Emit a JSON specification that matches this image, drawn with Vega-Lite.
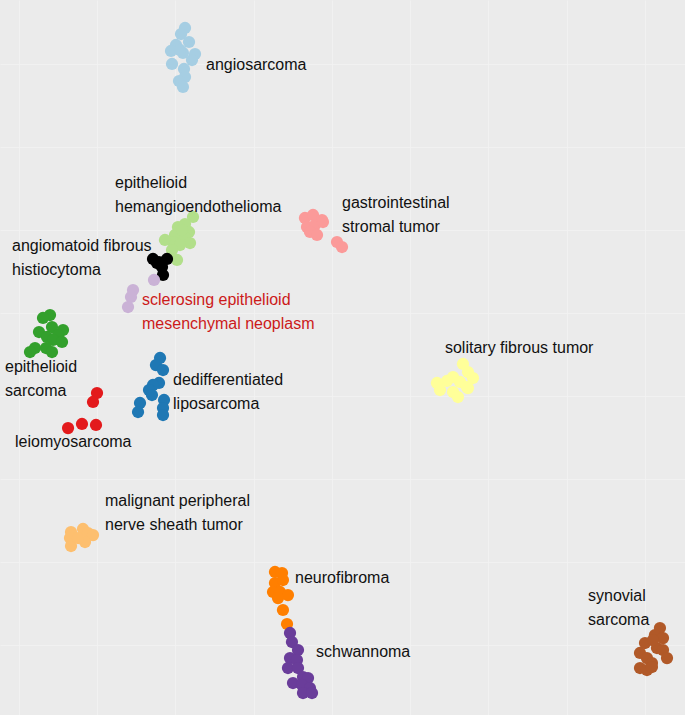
{
  "$schema": "https://vega.github.io/schema/vega-lite/v6.json",
  "width": 685,
  "height": 715,
  "autosize": {"type": "fit", "contains": "padding"},
  "padding": 0,
  "background": "#ebebeb",
  "config": {"view": {"stroke": null, "fill": "#ebebeb"}},
  "datasets": {
    "pts": [
      {"t": "angiosarcoma", "x": 11.24, "y": 74.34},
      {"t": "angiosarcoma", "x": 10.73, "y": 73.61},
      {"t": "angiosarcoma", "x": 10.09, "y": 72.29},
      {"t": "angiosarcoma", "x": 11.75, "y": 72.65},
      {"t": "angiosarcoma", "x": 9.45, "y": 71.57},
      {"t": "angiosarcoma", "x": 10.98, "y": 71.33},
      {"t": "angiosarcoma", "x": 12.52, "y": 71.2},
      {"t": "angiosarcoma", "x": 12.13, "y": 70.48},
      {"t": "angiosarcoma", "x": 9.58, "y": 70.0},
      {"t": "angiosarcoma", "x": 11.11, "y": 69.4},
      {"t": "angiosarcoma", "x": 11.24, "y": 68.43},
      {"t": "angiosarcoma", "x": 10.47, "y": 67.95},
      {"t": "angiosarcoma", "x": 10.98, "y": 67.23},
      {"t": "angiosarcoma", "x": 10.6, "y": 71.69},
      {"t": "epithelioid hemangioendothelioma", "x": 12.26, "y": 51.57},
      {"t": "epithelioid hemangioendothelioma", "x": 11.24, "y": 50.72},
      {"t": "epithelioid hemangioendothelioma", "x": 10.34, "y": 50.36},
      {"t": "epithelioid hemangioendothelioma", "x": 11.75, "y": 49.76},
      {"t": "epithelioid hemangioendothelioma", "x": 10.85, "y": 49.64},
      {"t": "epithelioid hemangioendothelioma", "x": 9.96, "y": 49.4},
      {"t": "epithelioid hemangioendothelioma", "x": 11.24, "y": 49.04},
      {"t": "epithelioid hemangioendothelioma", "x": 9.71, "y": 48.55},
      {"t": "epithelioid hemangioendothelioma", "x": 11.88, "y": 48.43},
      {"t": "epithelioid hemangioendothelioma", "x": 10.6, "y": 48.19},
      {"t": "epithelioid hemangioendothelioma", "x": 8.68, "y": 48.8},
      {"t": "epithelioid hemangioendothelioma", "x": 9.58, "y": 47.59},
      {"t": "epithelioid hemangioendothelioma", "x": 10.22, "y": 46.39},
      {"t": "epithelioid hemangioendothelioma", "x": 10.85, "y": 50.0},
      {"t": "angiomatoid fibrous histiocytoma", "x": 7.15, "y": 46.51},
      {"t": "angiomatoid fibrous histiocytoma", "x": 7.92, "y": 46.14},
      {"t": "angiomatoid fibrous histiocytoma", "x": 8.94, "y": 46.51},
      {"t": "angiomatoid fibrous histiocytoma", "x": 8.3, "y": 45.54},
      {"t": "angiomatoid fibrous histiocytoma", "x": 8.43, "y": 44.58},
      {"t": "angiomatoid fibrous histiocytoma", "x": 7.66, "y": 46.02},
      {"t": "sclerosing epithelioid mesenchymal neoplasm", "x": 7.28, "y": 43.98},
      {"t": "sclerosing epithelioid mesenchymal neoplasm", "x": 4.6, "y": 42.77},
      {"t": "sclerosing epithelioid mesenchymal neoplasm", "x": 4.34, "y": 41.93},
      {"t": "sclerosing epithelioid mesenchymal neoplasm", "x": 3.96, "y": 40.72},
      {"t": "epithelioid sarcoma", "x": -6.0, "y": 39.76},
      {"t": "epithelioid sarcoma", "x": -6.9, "y": 39.4},
      {"t": "epithelioid sarcoma", "x": -5.75, "y": 38.31},
      {"t": "epithelioid sarcoma", "x": -7.41, "y": 37.71},
      {"t": "epithelioid sarcoma", "x": -4.34, "y": 37.95},
      {"t": "epithelioid sarcoma", "x": -4.98, "y": 37.35},
      {"t": "epithelioid sarcoma", "x": -6.39, "y": 37.11},
      {"t": "epithelioid sarcoma", "x": -5.62, "y": 36.75},
      {"t": "epithelioid sarcoma", "x": -4.47, "y": 36.51},
      {"t": "epithelioid sarcoma", "x": -7.92, "y": 35.78},
      {"t": "epithelioid sarcoma", "x": -8.56, "y": 35.3},
      {"t": "epithelioid sarcoma", "x": -6.51, "y": 35.78},
      {"t": "epithelioid sarcoma", "x": -5.75, "y": 35.3},
      {"t": "leiomyosarcoma", "x": 0.0, "y": 30.36},
      {"t": "leiomyosarcoma", "x": -0.51, "y": 29.28},
      {"t": "leiomyosarcoma", "x": -0.13, "y": 26.51},
      {"t": "leiomyosarcoma", "x": -1.92, "y": 26.63},
      {"t": "leiomyosarcoma", "x": -3.7, "y": 26.14},
      {"t": "dedifferentiated liposarcoma", "x": 8.05, "y": 34.58},
      {"t": "dedifferentiated liposarcoma", "x": 7.53, "y": 33.73},
      {"t": "dedifferentiated liposarcoma", "x": 8.43, "y": 33.13},
      {"t": "dedifferentiated liposarcoma", "x": 7.92, "y": 31.57},
      {"t": "dedifferentiated liposarcoma", "x": 7.15, "y": 31.33},
      {"t": "dedifferentiated liposarcoma", "x": 6.64, "y": 30.72},
      {"t": "dedifferentiated liposarcoma", "x": 7.02, "y": 30.12},
      {"t": "dedifferentiated liposarcoma", "x": 5.49, "y": 29.16},
      {"t": "dedifferentiated liposarcoma", "x": 5.24, "y": 28.07},
      {"t": "dedifferentiated liposarcoma", "x": 8.56, "y": 29.52},
      {"t": "dedifferentiated liposarcoma", "x": 8.43, "y": 28.55},
      {"t": "dedifferentiated liposarcoma", "x": 8.43, "y": 27.71},
      {"t": "gastrointestinal stromal tumor", "x": 26.56, "y": 51.45},
      {"t": "gastrointestinal stromal tumor", "x": 27.59, "y": 51.81},
      {"t": "gastrointestinal stromal tumor", "x": 28.74, "y": 51.2},
      {"t": "gastrointestinal stromal tumor", "x": 26.82, "y": 50.36},
      {"t": "gastrointestinal stromal tumor", "x": 27.84, "y": 50.6},
      {"t": "gastrointestinal stromal tumor", "x": 27.2, "y": 49.76},
      {"t": "gastrointestinal stromal tumor", "x": 28.1, "y": 49.4},
      {"t": "gastrointestinal stromal tumor", "x": 30.65, "y": 48.55},
      {"t": "gastrointestinal stromal tumor", "x": 31.29, "y": 47.95},
      {"t": "gastrointestinal stromal tumor", "x": 28.86, "y": 50.96},
      {"t": "solitary fibrous tumor", "x": 46.74, "y": 33.86},
      {"t": "solitary fibrous tumor", "x": 47.38, "y": 32.89},
      {"t": "solitary fibrous tumor", "x": 48.02, "y": 32.17},
      {"t": "solitary fibrous tumor", "x": 45.47, "y": 32.29},
      {"t": "solitary fibrous tumor", "x": 44.7, "y": 31.81},
      {"t": "solitary fibrous tumor", "x": 43.42, "y": 31.57},
      {"t": "solitary fibrous tumor", "x": 43.81, "y": 30.72},
      {"t": "solitary fibrous tumor", "x": 46.36, "y": 31.69},
      {"t": "solitary fibrous tumor", "x": 45.47, "y": 30.48},
      {"t": "solitary fibrous tumor", "x": 47.38, "y": 30.96},
      {"t": "solitary fibrous tumor", "x": 46.1, "y": 29.88},
      {"t": "solitary fibrous tumor", "x": 47.25, "y": 31.08},
      {"t": "malignant peripheral nerve sheath tumor", "x": -3.32, "y": 13.61},
      {"t": "malignant peripheral nerve sheath tumor", "x": -3.45, "y": 12.89},
      {"t": "malignant peripheral nerve sheath tumor", "x": -3.32, "y": 11.93},
      {"t": "malignant peripheral nerve sheath tumor", "x": -1.79, "y": 13.98},
      {"t": "malignant peripheral nerve sheath tumor", "x": -1.15, "y": 13.49},
      {"t": "malignant peripheral nerve sheath tumor", "x": -0.51, "y": 13.25},
      {"t": "malignant peripheral nerve sheath tumor", "x": -1.53, "y": 12.41},
      {"t": "malignant peripheral nerve sheath tumor", "x": -2.43, "y": 12.89},
      {"t": "neurofibroma", "x": 22.73, "y": 8.8},
      {"t": "neurofibroma", "x": 23.63, "y": 8.67},
      {"t": "neurofibroma", "x": 22.73, "y": 7.47},
      {"t": "neurofibroma", "x": 23.75, "y": 7.83},
      {"t": "neurofibroma", "x": 22.48, "y": 6.39},
      {"t": "neurofibroma", "x": 23.37, "y": 6.39},
      {"t": "neurofibroma", "x": 24.39, "y": 6.02},
      {"t": "neurofibroma", "x": 23.12, "y": 5.66},
      {"t": "neurofibroma", "x": 23.75, "y": 4.22},
      {"t": "neurofibroma", "x": 24.27, "y": 2.53},
      {"t": "schwannoma", "x": 24.65, "y": 1.45},
      {"t": "schwannoma", "x": 24.9, "y": 0.36},
      {"t": "schwannoma", "x": 25.67, "y": -0.6},
      {"t": "schwannoma", "x": 24.65, "y": -1.57},
      {"t": "schwannoma", "x": 25.54, "y": -1.81},
      {"t": "schwannoma", "x": 24.39, "y": -2.77},
      {"t": "schwannoma", "x": 25.67, "y": -2.77},
      {"t": "schwannoma", "x": 26.31, "y": -3.86},
      {"t": "schwannoma", "x": 26.95, "y": -3.98},
      {"t": "schwannoma", "x": 25.03, "y": -4.58},
      {"t": "schwannoma", "x": 26.18, "y": -4.82},
      {"t": "schwannoma", "x": 27.2, "y": -5.18},
      {"t": "schwannoma", "x": 26.31, "y": -5.78},
      {"t": "schwannoma", "x": 27.46, "y": -5.78},
      {"t": "synovial sarcoma", "x": 71.9, "y": 2.05},
      {"t": "synovial sarcoma", "x": 71.26, "y": 1.2},
      {"t": "synovial sarcoma", "x": 72.29, "y": 0.84},
      {"t": "synovial sarcoma", "x": 69.99, "y": 0.24},
      {"t": "synovial sarcoma", "x": 71.52, "y": -0.36},
      {"t": "synovial sarcoma", "x": 72.29, "y": -0.6},
      {"t": "synovial sarcoma", "x": 69.35, "y": -0.96},
      {"t": "synovial sarcoma", "x": 70.24, "y": -1.57},
      {"t": "synovial sarcoma", "x": 72.8, "y": -1.57},
      {"t": "synovial sarcoma", "x": 70.88, "y": -2.17},
      {"t": "synovial sarcoma", "x": 69.35, "y": -2.77},
      {"t": "synovial sarcoma", "x": 70.24, "y": -3.01},
      {"t": "synovial sarcoma", "x": 70.88, "y": -2.65},
      {"t": "synovial sarcoma", "x": 71.01, "y": 0.6}
    ],
    "labels": [
      {"label": "angiosarcoma", "x": 13.92, "y": 69.88, "hl": "no"},
      {"label": "epithelioid\nhemangioendothelioma", "x": 2.3, "y": 55.66, "hl": "no"},
      {"label": "gastrointestinal\nstromal tumor", "x": 31.29, "y": 53.25, "hl": "no"},
      {"label": "angiomatoid fibrous\nhistiocytoma", "x": -10.86, "y": 48.07, "hl": "no"},
      {"label": "sclerosing epithelioid\nmesenchymal neoplasm", "x": 5.75, "y": 41.57, "hl": "yes"},
      {"label": "epithelioid\nsarcoma", "x": -11.75, "y": 33.49, "hl": "no"},
      {"label": "dedifferentiated\nliposarcoma", "x": 9.71, "y": 31.93, "hl": "no"},
      {"label": "solitary fibrous tumor", "x": 44.44, "y": 35.78, "hl": "no"},
      {"label": "leiomyosarcoma", "x": -10.47, "y": 24.46, "hl": "no"},
      {"label": "malignant peripheral\nnerve sheath tumor", "x": 1.02, "y": 17.35, "hl": "no"},
      {"label": "neurofibroma", "x": 25.29, "y": 8.07, "hl": "no"},
      {"label": "schwannoma", "x": 27.97, "y": -0.84, "hl": "no"},
      {"label": "synovial\nsarcoma", "x": 62.71, "y": 5.9, "hl": "no"}
    ]
  },
  "layer": [
    {
      "data": {"name": "pts"},
      "mark": {"type": "circle", "size": 150, "opacity": 1},
      "encoding": {
        "x": {
          "field": "x", "type": "quantitative",
          "scale": {"domain": [-12.39, 75.1], "nice": false, "zero": false},
          "axis": {"labels": false, "ticks": false, "domain": false, "title": null, "grid": true,
                   "values": [-10, 0, 10, 20, 30, 40, 50, 60, 70], "gridColor": "#f3f3f3", "gridWidth": 0.8}
        },
        "y": {
          "field": "y", "type": "quantitative",
          "scale": {"domain": [-8.43, 77.71], "nice": false, "zero": false},
          "axis": {"labels": false, "ticks": false, "domain": false, "title": null, "grid": true,
                   "values": [0, 10, 20, 30, 40, 50, 60, 70], "gridColor": "#f3f3f3", "gridWidth": 0.8}
        },
        "color": {
          "field": "t", "type": "nominal", "legend": null,
          "scale": {
            "domain": ["angiosarcoma", "dedifferentiated liposarcoma", "epithelioid hemangioendothelioma", "epithelioid sarcoma", "gastrointestinal stromal tumor", "leiomyosarcoma", "malignant peripheral nerve sheath tumor", "neurofibroma", "sclerosing epithelioid mesenchymal neoplasm", "schwannoma", "solitary fibrous tumor", "synovial sarcoma", "angiomatoid fibrous histiocytoma"],
            "range": ["#a6cee3", "#1f78b4", "#b2df8a", "#33a02c", "#fb9a99", "#e31a1c", "#fdbf6f", "#ff7f00", "#cab2d6", "#6a3d9a", "#ffff99", "#b15928", "#000000"]
          }
        }
      }
    },
    {
      "data": {"name": "labels"},
      "mark": {"type": "text", "align": "left", "baseline": "middle", "font": "Liberation Sans", "fontSize": 16, "lineBreak": "\n", "lineHeight": 24},
      "encoding": {
        "x": {"field": "x", "type": "quantitative"},
        "y": {"field": "y", "type": "quantitative"},
        "text": {"field": "label"},
        "color": {"field": "hl", "type": "nominal", "legend": null,
                  "scale": {"domain": ["no", "yes"], "range": ["#111111", "#cc1a1a"]}}
      }
    }
  ],
  "resolve": {"scale": {"color": "independent"}}
}
